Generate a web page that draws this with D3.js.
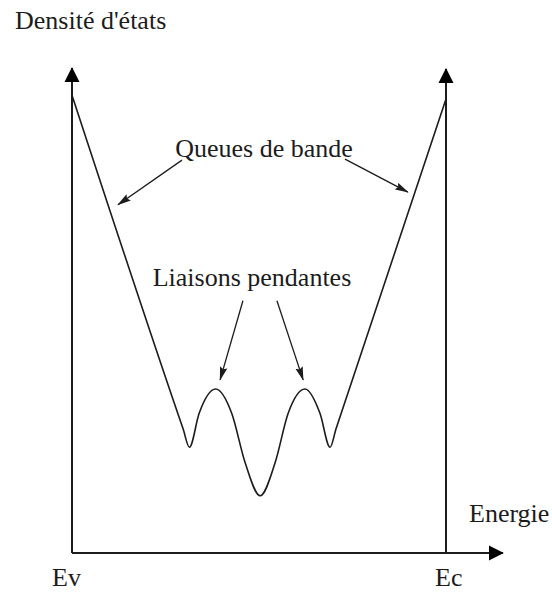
<!DOCTYPE html>
<html>
<head>
<meta charset="utf-8">
<script src="https://cdn.jsdelivr.net/npm/d3@7"></script>
<style>
    body { margin: 0; background: white; }
</style>
</head>
<body>
<script>
// energie (0 = Ev, 1 = Ec) et densité d'états (unités arbitraires, 0..100)
const energie = [0, 0.297, 0.314, 0.340, 0.384, 0.427, 0.463, 0.503,
                 0.543, 0.578, 0.623, 0.663, 0.690, 0.706, 1.0]
const densite = [94.4, 25.6, 21.8, 28.8, 33.8, 28.8, 18.6, 11.8,
                 18.6, 28.8, 33.8, 28.8, 21.8, 25.6, 93.6]

const bornes = ["Ev", "Ec"]
const bornesE = [0, 1]

// flèches d'annotation : [E départ, D départ, E pointe, D pointe]
const annotQueues = [[0.294, 81.0, 0.123, 71.8], [0.730, 81.2, 0.898, 74.4]]
const annotLiaisons = [[0.457, 52.0, 0.396, 35.7], [0.548, 52.0, 0.618, 35.7]]

const W = 552, H = 593
const ink = "#1c1c1c"
const serif = "'Liberation Serif', 'Times New Roman', serif"

const x = d3.scaleLinear().domain([0, 1]).range([72, 446])
const y = d3.scaleLinear().domain([0, 100]).range([553, 68])

const svg = d3.select("body")
    .append("svg")
        .attr("width", W)
        .attr("height", H)

const defs = svg.append("defs")

defs.append("marker")
    .attr("id", "grosse")
    .attr("markerUnits", "userSpaceOnUse")
    .attr("viewBox", "0 -8 15 16")
    .attr("refX", 14).attr("refY", 0)
    .attr("markerWidth", 15).attr("markerHeight", 16)
    .attr("orient", "auto")
  .append("path")
    .attr("d", "M0,-7.5L15,0L0,7.5Z")
    .attr("fill", "#000")

defs.append("marker")
    .attr("id", "fine")
    .attr("markerUnits", "userSpaceOnUse")
    .attr("viewBox", "0 -4 14 8")
    .attr("refX", 13).attr("refY", 0)
    .attr("markerWidth", 14).attr("markerHeight", 8)
    .attr("orient", "auto")
  .append("path")
    .attr("d", "M0,-3.8L14,0L0,3.8L2,0Z")
    .attr("fill", ink)

// axes
const axes = svg.append("g")
    .attr("stroke", ink)
    .attr("stroke-width", 2)

axes.append("line")
    .attr("x1", x(0)).attr("y1", y(0))
    .attr("x2", x(0)).attr("y2", y(100))
    .attr("marker-end", "url(#grosse)")

axes.append("line")
    .attr("x1", x(1)).attr("y1", y(0))
    .attr("x2", x(1)).attr("y2", y(99.8))
    .attr("marker-end", "url(#grosse)")

axes.append("line")
    .attr("x1", x(0)).attr("y1", y(0))
    .attr("x2", x(1.152)).attr("y2", y(0))
    .attr("marker-end", "url(#grosse)")

// courbe de densité d'états
const pts = energie.map((e, i) => [e, densite[i]])

svg.append("path")
    .datum(pts)
    .attr("fill", "none")
    .attr("stroke", ink)
    .attr("stroke-width", 1.6)
    .attr("stroke-linejoin", "round")
    .attr("d", d3.line()
        .x(d => x(d[0]))
        .y(d => y(d[1]))
        .curve(d3.curveMonotoneX))

// flèches
svg.append("g")
    .attr("stroke", ink)
    .attr("stroke-width", 1.3)
  .selectAll("line")
    .data(annotQueues.concat(annotLiaisons))
    .join("line")
        .attr("x1", d => x(d[0])).attr("y1", d => y(d[1]))
        .attr("x2", d => x(d[2])).attr("y2", d => y(d[3]))
        .attr("marker-end", "url(#fine)")

// textes
const txt = svg.append("g")
    .attr("font-family", serif)
    .attr("font-size", 26)
    .attr("fill", ink)

txt.append("text").attr("x", 15).attr("y", 29).text("Densité d'états")
txt.append("text").attr("x", 264).attr("y", 157).attr("text-anchor", "middle").text("Queues de bande")
txt.append("text").attr("x", 252).attr("y", 286).attr("text-anchor", "middle").text("Liaisons pendantes")
txt.append("text").attr("x", 469).attr("y", 522).text("Energie")

txt.selectAll("text.borne")
    .data(bornes)
    .join("text")
        .attr("class", "borne")
        .attr("x", (d, i) => x(bornesE[i]) + (i ? -11 : -20))
        .attr("y", 586)
        .text(d => d)
</script>
</body>
</html>
